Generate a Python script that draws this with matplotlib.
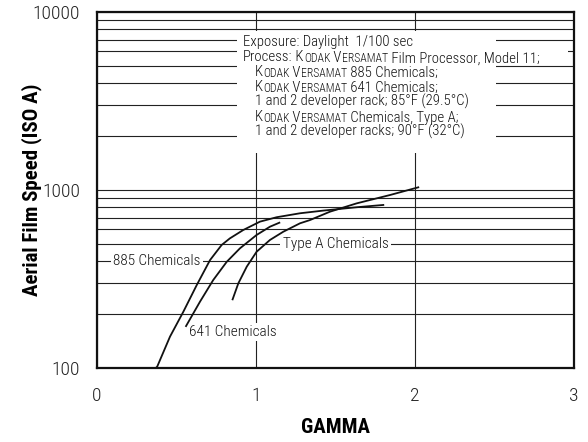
"""Aerial film speed vs. gamma for three processing chemistries."""

import matplotlib as mpl

mpl.use("Agg")
import matplotlib.pyplot as plt
from matplotlib import font_manager
from matplotlib.patches import Rectangle
from matplotlib.ticker import FixedLocator, NullFormatter

gamma_885 = [0.37, 0.379, 0.459, 0.543, 0.627, 0.711, 0.784, 0.836, 0.920,
             1.025, 1.130, 1.277, 1.423, 1.633, 1.801]
speed_885 = [100, 102, 150, 207, 292, 404, 491, 535, 596,
             664, 703, 740, 766, 800, 824]

gamma_641 = [0.560, 0.648, 0.731, 0.816, 0.899, 1.004, 1.088, 1.147]
speed_641 = [172, 236, 312, 395, 470, 559, 622, 655]

gamma_typea = [0.853, 0.889, 0.942, 1.004, 1.088, 1.172, 1.277, 1.340,
               1.465, 1.633, 1.843, 2.021]
speed_typea = [243, 299, 371, 450, 524, 583, 650, 678,
               755, 841, 937, 1035]

major_speeds = [100, 1000, 10000]
minor_speeds = [m * d for d in (100, 1000) for m in range(2, 10)]
gamma_ticks = [0, 1, 2, 3]

# note block; tuples are (text, small-caps) pieces
note_lines = [
    [("Exposure: Daylight  1/100 sec", False)],
    [("Process:", False), (" K", False), ("ODAK", True), (" V", False),
     ("ERSAMAT", True), (" Film Processor, Model 11;", False)],
    [("K", False), ("ODAK", True), (" V", False), ("ERSAMAT", True),
     (" 885 Chemicals;", False)],
    [("K", False), ("ODAK", True), (" V", False), ("ERSAMAT", True),
     (" 641 Chemicals;", False)],
    [("1 and 2 developer rack; 85°F (29.5°C)", False)],
    [("K", False), ("ODAK", True), (" V", False), ("ERSAMAT", True),
     (" Chemicals, Type A;", False)],
    [("1 and 2 developer racks; 90°F (32°C)", False)],
]

# a condensed sans is closest to the original typesetting
_have = {f.name for f in font_manager.fontManager.ttflist}
_narrow = next((n for n in ["Roboto Condensed", "Liberation Sans Narrow",
                            "Archivo Narrow", "PT Sans Narrow",
                            "Open Sans Condensed"] if n in _have), "Liberation Sans")
plt.rcParams["font.family"] = [_narrow, "DejaVu Sans"]
INK = "#111111"


def draw_note_line(ax, x, y, pieces, size=10.6):
    """Write one line, chaining pieces so small caps sit on the baseline."""
    prev = None
    for text, small in pieces:
        fs = size * 0.8 if small else size
        if prev is None:
            prev = ax.text(x, y, text, transform=ax.transAxes, fontsize=fs,
                           ha="left", va="baseline", color=INK, zorder=4,
                           fontweight="light")
        else:
            prev = ax.annotate(text, xy=(1, 0), xycoords=prev,
                               xytext=(0, -0.45 if small else 0),
                               textcoords="offset points", fontsize=fs,
                               ha="left", va="bottom", color=INK, zorder=4,
                               fontweight="light")


fig = plt.figure(figsize=(5.88, 4.42), dpi=100)
fig.patch.set_facecolor("white")
ax = fig.add_axes((0.165, 0.1674, 0.811, 0.8055))

ax.plot(gamma_885, speed_885, color=INK, lw=1.3, zorder=3)
ax.plot(gamma_641, speed_641, color=INK, lw=1.3, zorder=3)
ax.plot(gamma_typea, speed_typea, color=INK, lw=1.3, zorder=3)

ax.set_yscale("log")
ax.set_xlim(0, 3)
ax.set_ylim(100, 10000)
ax.yaxis.set_major_locator(FixedLocator(major_speeds))
ax.yaxis.set_minor_locator(FixedLocator(minor_speeds))
ax.yaxis.set_minor_formatter(NullFormatter())
ax.set_yticklabels([str(v) for v in major_speeds], fontweight="light")
ax.set_xticks(gamma_ticks)
ax.set_xticklabels([str(v) for v in gamma_ticks], fontweight="light")
ax.tick_params(which="both", length=0, labelsize=14, colors="#222222")
ax.tick_params(axis="x", pad=14)
ax.tick_params(axis="y", pad=12)

ax.grid(True, which="both", axis="y", color="#222222", lw=0.8)
ax.grid(True, which="major", axis="x", color="#222222", lw=0.8)
ax.set_axisbelow(True)
for spine in ax.spines.values():
    spine.set_linewidth(1.6)
    spine.set_color(INK)

ax.set_xlabel("GAMMA", fontsize=15, fontweight="bold", labelpad=9)
ax.set_ylabel("Aerial Film Speed (ISO A)", fontsize=15, fontweight="bold")
ax.yaxis.set_label_coords(-0.115, 0.5)

# knock the grid out behind the note block
for x0, y0, w, h in [(0.2935, 0.6039, 0.543, 0.3427),
                     (0.2935, 0.8600, 0.6935, 0.0500)]:
    ax.add_patch(Rectangle((x0, y0), w, h, transform=ax.transAxes,
                           facecolor="white", edgecolor="none", zorder=1))

note_x = [0.306, 0.306, 0.331, 0.331, 0.331, 0.331, 0.331]
for i, pieces in enumerate(note_lines):
    draw_note_line(ax, note_x[i], 0.9045 - i * 0.04214, pieces)

label_box = dict(boxstyle="square,pad=0.15", facecolor="white", edgecolor="none")
for gx, sy, name in [(0.375, 400, "885 Chemicals"),
                     (1.50, 500, "Type A Chemicals"),
                     (0.852, 159, "641 Chemicals")]:
    ax.text(gx, sy, name, fontsize=11, ha="center", va="center",
            color=INK, bbox=label_box, zorder=2, fontweight="light")

fig.savefig("out.png", dpi=100, facecolor="white")
plt.close(fig)
